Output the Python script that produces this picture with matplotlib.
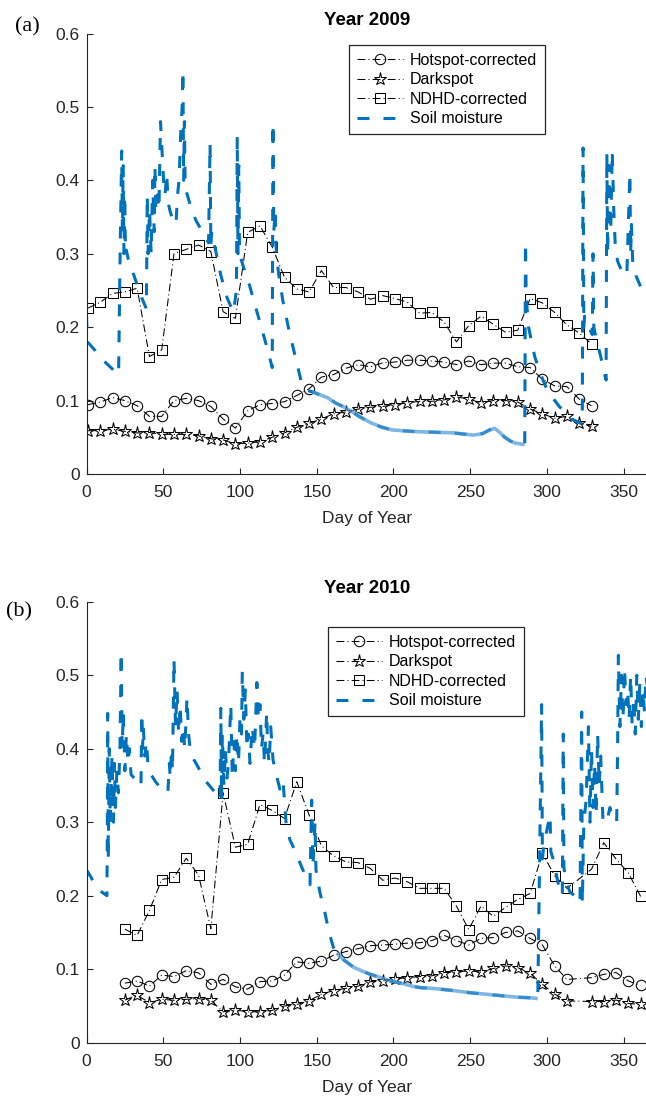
import matplotlib
matplotlib.use("Agg")
import matplotlib.pyplot as plt

plt.rcParams['font.family'] = ['Liberation Sans', 'DejaVu Sans']

# ---- 2009: 8-day composites ----
days09 = [1, 9, 17, 25, 33, 41, 49, 57, 65, 73, 81, 89, 97, 105, 113, 121, 129, 137,
          145, 153, 161, 169, 177, 185, 193, 201, 209, 217, 225, 233, 241, 249, 257,
          265, 273, 281, 289, 297, 305, 313, 321, 329]
hot09 = [0.0945, 0.098, 0.104, 0.100, 0.093, 0.0785, 0.0785, 0.100, 0.103, 0.100, 0.092,
         0.075, 0.0625, 0.086, 0.0945, 0.096, 0.0985, 0.107, 0.116, 0.132, 0.1355, 0.144,
         0.149, 0.146, 0.1515, 0.1525, 0.155, 0.155, 0.154, 0.1525, 0.149, 0.154, 0.149,
         0.151, 0.151, 0.146, 0.145, 0.129, 0.120, 0.119, 0.102, 0.093]
dark09 = [0.059, 0.059, 0.061, 0.058, 0.056, 0.0565, 0.054, 0.054, 0.054, 0.052, 0.048,
          0.0465, 0.041, 0.042, 0.044, 0.050, 0.056, 0.0635, 0.069, 0.075, 0.082, 0.0845,
          0.0885, 0.091, 0.092, 0.0945, 0.097, 0.099, 0.099, 0.101, 0.105, 0.102, 0.097,
          0.100, 0.100, 0.098, 0.0885, 0.082, 0.076, 0.0785, 0.069, 0.065]
ndhd09 = [0.226, 0.234, 0.246, 0.248, 0.253, 0.160, 0.169, 0.300, 0.306, 0.312, 0.303,
          0.221, 0.212, 0.329, 0.338, 0.309, 0.268, 0.252, 0.248, 0.277, 0.254, 0.254,
          0.248, 0.238, 0.243, 0.239, 0.234, 0.219, 0.220, 0.207, 0.180, 0.202, 0.215,
          0.204, 0.193, 0.196, 0.239, 0.233, 0.220, 0.203, 0.192, 0.177]

# ---- 2009 soil moisture (day, value) ----
sm09 = [(0, 0.215), (0.5, 0.18), (1.5, 0.178), (5.7, 0.168), (10.8, 0.155), (15.8, 0.145),
        (20.9, 0.135), (21.9, 0.30), (22.9, 0.44), (23.4, 0.33), (23.9, 0.42), (24.4, 0.30),
        (24.9, 0.38), (25.4, 0.30), (25.9, 0.305), (28, 0.285), (31, 0.27), (35, 0.245),
        (39, 0.225), (39.6, 0.38), (40.1, 0.30), (41.1, 0.36), (42.1, 0.30), (43.1, 0.40),
        (44.1, 0.33), (44.6, 0.42), (45.1, 0.36), (46.2, 0.38), (47.2, 0.36), (48.2, 0.48),
        (49.2, 0.44), (50.2, 0.40), (51.2, 0.38), (52.2, 0.41), (53.2, 0.37), (54.2, 0.36),
        (56.3, 0.345), (58.3, 0.34), (59.3, 0.38), (60.3, 0.40), (61.3, 0.46), (62.3, 0.50),
        (62.8, 0.55), (63.3, 0.40), (63.8, 0.48), (64.3, 0.39), (66.4, 0.375), (68.4, 0.36),
        (71.4, 0.345), (75.5, 0.33), (79.5, 0.315), (80.5, 0.45), (81, 0.31), (81.5, 0.33),
        (84.6, 0.30), (87.6, 0.27), (91.6, 0.24), (95.7, 0.22), (97.7, 0.25), (98.2, 0.46),
        (98.7, 0.30), (99.2, 0.42), (99.7, 0.30), (101.8, 0.285), (105.8, 0.26),
        (109.8, 0.23), (113.9, 0.20), (117.9, 0.17), (121, 0.145), (121.5, 0.478),
        (122, 0.33), (123, 0.36), (123.5, 0.31), (125, 0.275), (128, 0.235), (132, 0.195),
        (136, 0.16), (140, 0.125), (142, 0.115), (147, 0.112), (152, 0.108), (157, 0.104),
        (162, 0.097), (167, 0.092), (172, 0.086), (178, 0.078), (185, 0.070), (192, 0.064),
        (199, 0.060), (206, 0.059), (212, 0.058), (225, 0.057), (239, 0.056), (252, 0.053),
        (258, 0.055), (262.5, 0.060), (266, 0.062), (269, 0.057), (272.5, 0.050),
        (276, 0.045), (279.5, 0.042), (285.5, 0.040), (286, 0.316), (286.5, 0.24),
        (288, 0.20), (292, 0.16), (296, 0.135), (300, 0.115), (304, 0.103), (308, 0.092),
        (312, 0.083), (316, 0.075), (323, 0.068), (323.5, 0.444), (324, 0.20),
        (324.5, 0.215), (326, 0.205), (329.5, 0.19), (330, 0.30), (330.5, 0.20),
        (332, 0.185), (335, 0.16), (337, 0.14), (338.5, 0.128), (339, 0.437), (339.5, 0.30),
        (340.5, 0.42), (341.5, 0.33), (342.5, 0.44), (343.5, 0.36), (344.5, 0.31),
        (346, 0.29), (349, 0.275), (352, 0.27), (354, 0.41), (354.5, 0.30), (355, 0.34),
        (356, 0.28), (359, 0.265), (362, 0.25), (366, 0.24)]

# ---- 2010: 8-day composites (day 321 missing) ----
days10 = [25, 33, 41, 49, 57, 65, 73, 81, 89, 97, 105, 113, 121, 129, 137, 145, 153, 161,
          169, 177, 185, 193, 201, 209, 217, 225, 233, 241, 249, 257, 265, 273, 281, 289,
          297, 305, 313, 329, 337, 345, 353, 361]
hot10 = [0.081, 0.084, 0.077, 0.092, 0.090, 0.098, 0.095, 0.0795, 0.086, 0.076, 0.073,
         0.083, 0.084, 0.092, 0.110, 0.108, 0.111, 0.119, 0.124, 0.128, 0.132, 0.133,
         0.134, 0.1355, 0.136, 0.139, 0.146, 0.139, 0.133, 0.142, 0.143, 0.150, 0.152,
         0.142, 0.133, 0.1045, 0.086, 0.0885, 0.093, 0.0955, 0.084, 0.078]
dark10 = [0.058, 0.0645, 0.0545, 0.059, 0.0577, 0.059, 0.060, 0.0577, 0.042, 0.0445, 0.042,
          0.042, 0.044, 0.050, 0.052, 0.057, 0.066, 0.071, 0.074, 0.077, 0.083, 0.084,
          0.087, 0.0885, 0.090, 0.091, 0.0955, 0.096, 0.098, 0.096, 0.101, 0.1045, 0.102,
          0.0945, 0.0795, 0.066, 0.057, 0.056, 0.056, 0.058, 0.0535, 0.052]
ndhd10 = [0.1545, 0.146, 0.180, 0.222, 0.225, 0.251, 0.228, 0.155, 0.340, 0.266, 0.270,
          0.324, 0.316, 0.305, 0.355, 0.310, 0.268, 0.254, 0.246, 0.245, 0.237, 0.221,
          0.224, 0.219, 0.210, 0.210, 0.210, 0.186, 0.154, 0.186, 0.172, 0.184, 0.195,
          0.203, 0.258, 0.227, 0.210, 0.236, 0.272, 0.250, 0.231, 0.199]

# ---- 2010 soil moisture (day, value) ----
sm10 = [(0, 0.235), (3, 0.225), (6, 0.212), (10, 0.205), (13.3, 0.200), (13.6, 0.30),
        (13.8, 0.448), (14.2, 0.25), (14.8, 0.40), (15.5, 0.30), (16.6, 0.39), (17.6, 0.30),
        (18.2, 0.38), (18.8, 0.32), (19.8, 0.37), (20.8, 0.34), (21.8, 0.40), (22.6, 0.532),
        (23.2, 0.40), (24, 0.45), (25, 0.37), (26, 0.42), (27, 0.38), (28, 0.40),
        (29, 0.365), (31, 0.36), (33, 0.35), (35.5, 0.35), (36, 0.449), (36.5, 0.40),
        (37, 0.43), (38, 0.39), (39, 0.41), (40, 0.38), (42, 0.365), (45, 0.355),
        (49, 0.345), (53, 0.34), (54, 0.38), (54.5, 0.36), (55.5, 0.40), (56, 0.37),
        (57, 0.522), (58, 0.43), (59, 0.48), (60, 0.42), (61, 0.46), (62, 0.41), (63, 0.43),
        (64, 0.40), (65.5, 0.47), (66.5, 0.42), (67.5, 0.40), (70, 0.385), (74, 0.37),
        (78, 0.355), (82, 0.345), (86, 0.335), (87, 0.33), (87.5, 0.455), (88, 0.33),
        (88.5, 0.42), (89.5, 0.35), (90.5, 0.40), (91.5, 0.36), (92.5, 0.38), (94, 0.46),
        (95, 0.36), (96, 0.41), (97, 0.37), (98, 0.42), (99, 0.38), (100, 0.44), (101, 0.42),
        (101.5, 0.505), (102.5, 0.44), (103.5, 0.48), (104.5, 0.40), (105.5, 0.42),
        (106.5, 0.38), (108, 0.43), (109.5, 0.40), (111, 0.49), (112, 0.44), (113, 0.46),
        (114, 0.40), (115, 0.42), (116, 0.38), (117.4, 0.45), (118, 0.40), (119, 0.38),
        (120, 0.43), (121.5, 0.385), (123, 0.37), (126, 0.345), (128, 0.357), (130, 0.30),
        (132.5, 0.276), (135, 0.265), (138, 0.25), (142, 0.23), (145.6, 0.215),
        (146.7, 0.33), (147.5, 0.24), (148.9, 0.30), (149.5, 0.235), (152, 0.205),
        (155, 0.18), (158, 0.15), (160.8, 0.13), (163, 0.122), (168, 0.112), (173.8, 0.103),
        (180, 0.097), (185, 0.093), (191, 0.089), (198, 0.084), (205, 0.081), (212, 0.077),
        (217, 0.075), (225, 0.074), (238.8, 0.071), (249.8, 0.068), (260, 0.066),
        (270, 0.064), (280, 0.062), (290, 0.061), (294, 0.060), (296.5, 0.46), (297, 0.25),
        (298, 0.27), (300, 0.29), (302, 0.31), (302.5, 0.26), (304, 0.25), (306, 0.23),
        (308, 0.21), (310, 0.20), (310.6, 0.42), (311, 0.24), (312, 0.22), (315, 0.205),
        (318, 0.20), (321.5, 0.19), (322.6, 0.45), (323, 0.19), (324, 0.30), (325.5, 0.33),
        (327, 0.43), (328, 0.30), (329, 0.40), (330, 0.32), (331, 0.38), (332, 0.31),
        (333, 0.42), (334, 0.35), (335, 0.39), (336.5, 0.30), (339, 0.30), (341, 0.32),
        (343, 0.305), (345.4, 0.30), (346, 0.40), (346.5, 0.527), (347.5, 0.43),
        (348.5, 0.50), (349.5, 0.44), (350.5, 0.51), (351.5, 0.46), (352.5, 0.48),
        (353.5, 0.44), (354.5, 0.50), (355.5, 0.43), (356.5, 0.47), (357.5, 0.42),
        (358.5, 0.50), (359.5, 0.44), (360.5, 0.49), (361.5, 0.43), (362.5, 0.48),
        (363.5, 0.45), (364.5, 0.50), (366, 0.47)]

W, H = 646, 1097
BLUE = '#0072BD'
GREY = '#262626'
DASHDOT = (0, (7.5, 3.0, 1.0, 3.0))


def draw_panel(ax, days, hot, dark, ndhd, sm, flat, title, legend_xy):
    kw = dict(color='black', lw=0.75, linestyle=DASHDOT, mfc='none', mec='black', mew=0.75)
    ax.plot(days, hot, marker='o', ms=7.5, label='Hotspot-corrected', **kw)
    ax.plot(days, dark, marker='*', ms=9.5, label='Darkspot', **kw)
    ax.plot(days, ndhd, marker='s', ms=6.5, label='NDHD-corrected', **kw)
    smd = [p[0] for p in sm]
    smv = [p[1] for p in sm]
    ax.plot(smd, smv, color=BLUE, lw=2.2, linestyle=(0, (3.9, 4.6)), label='Soil moisture')
    # the slow drying period shows up as a fuzzy, nearly solid band
    fd = [d for d in smd if flat[0] <= d <= flat[1]]
    fv = [v for d, v in zip(smd, smv) if flat[0] <= d <= flat[1]]
    ax.plot(fd, fv, color='#4a98d6', lw=2.6, alpha=0.7, solid_capstyle='butt')

    ax.set_xlim(0, 366)
    ax.set_ylim(0, 0.6)
    ax.set_xticks(range(0, 351, 50))
    ax.set_yticks([0, 0.1, 0.2, 0.3, 0.4, 0.5, 0.6])
    ax.set_yticklabels(['0', '0.1', '0.2', '0.3', '0.4', '0.5', '0.6'])
    for s in ['top', 'right']:
        ax.spines[s].set_visible(False)
    for s in ['left', 'bottom']:
        ax.spines[s].set_color(GREY)
        ax.spines[s].set_linewidth(0.8)
    ax.tick_params(direction='in', length=4, width=0.8, colors=GREY, labelsize=12.5)
    ax.tick_params(axis='x', pad=8)
    ax.tick_params(axis='y', pad=5)
    ax.set_xlabel('Day of Year', fontsize=12.5, color=GREY, labelpad=8)
    ax.set_title(title, fontsize=13.5, fontweight='bold', pad=6)

    leg = ax.legend(loc='upper left', bbox_to_anchor=(legend_xy[0] / W, 1 - legend_xy[1] / H),
                    bbox_transform=ax.figure.transFigure, fontsize=11.5, numpoints=1,
                    handlelength=2.9, handletextpad=0.4, labelspacing=0.28,
                    borderpad=0.5, fancybox=False, framealpha=1, borderaxespad=0)
    leg.get_frame().set_edgecolor(GREY)
    leg.get_frame().set_linewidth(0.9)


fig = plt.figure(figsize=(W / 100, H / 100), dpi=100)
ax1 = fig.add_axes([86.5 / W, 1 - 474 / H, 561.8 / W, 440.5 / H])
ax2 = fig.add_axes([86.5 / W, 1 - 1042.7 / H, 561.8 / W, 441 / H])

draw_panel(ax1, days09, hot09, dark09, ndhd09, sm09, (147, 285.5), 'Year 2009', (349, 45))
draw_panel(ax2, days10, hot10, dark10, ndhd10, sm10, (163, 294), 'Year 2010', (328, 627))

fig.text(27 / W, 1 - 27 / H, '(a)', family='Liberation Serif', fontsize=16,
         ha='center', va='center')
fig.text(19 / W, 1 - 612 / H, '(b)', family='Liberation Serif', fontsize=16,
         ha='center', va='center')

fig.savefig('out.png', dpi=100)
